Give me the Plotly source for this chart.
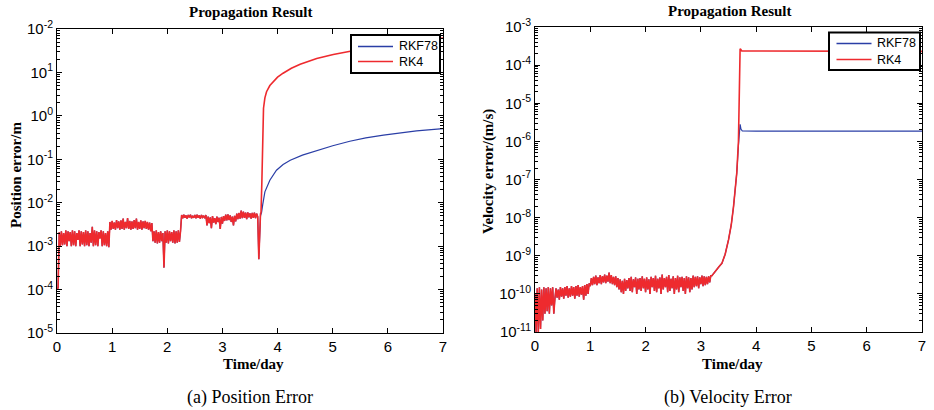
import numpy as np
import plotly.graph_objects as go

# ---------------- data: (a) position error ----------------
# shared noisy part (both integrators agree), sampled every 0.02 day from 0 to 3.66, units 1e-3 m
t_pos_noise = np.round(np.arange(0, 3.6601, 0.02), 2)
pos_noise_mm = [
    0.10, 0.11,
    # 0.04 - 0.94
    2.1, 1.0, 2.2, 1.05, 2.0, 1.1, 2.3, 1.0, 2.2, 1.3,
    2.1, 1.0, 2.3, 1.05, 2.2, 1.0, 2.0, 1.4, 2.3, 1.0,
    2.2, 1.1, 2.1, 1.0, 2.3, 1.05, 2.2, 1.0, 2.0, 1.2,
    2.8, 1.0, 2.3, 1.05, 2.2, 1.0, 2.1, 1.5, 2.3, 1.0,
    2.2, 1.05, 2.0, 1.0, 2.2, 0.95,
    # 0.96 - 1.72
    3.6, 2.4, 3.8, 2.5, 3.5, 2.4, 4.0, 2.6, 3.7, 2.4,
    3.9, 2.5, 4.3, 2.4, 3.6, 2.6, 4.4, 2.5, 3.8, 2.4,
    3.7, 2.5, 4.0, 2.6, 4.3, 2.4, 3.6, 2.5, 3.9, 2.4,
    3.7, 2.6, 3.8, 2.5, 3.6, 2.4, 3.5, 2.2, 3.4,
    # 1.74 - 2.24
    1.3, 2.2, 1.2, 2.3, 1.15, 2.1, 1.2, 2.2, 1.3, 2.0,
    0.32,
    2.2, 1.2, 2.3, 1.15, 2.2, 1.3, 2.1, 1.2, 2.3,
    1.15, 2.2, 1.2, 2.3, 1.25, 2.2,
    # 2.26 - 2.70
    5.2, 4.4, 5.3, 4.5, 5.1, 4.3, 5.2, 4.6, 5.3, 4.4,
    5.0, 4.5, 5.2, 4.4, 5.3, 4.5, 5.1, 4.3, 5.2, 4.6,
    5.0, 4.4, 5.2,
    # 2.72 - 3.66
    3.0, 4.8, 3.4, 4.6, 2.6, 4.9, 3.5, 4.4, 3.2, 4.8,
    3.6, 4.5, 2.5, 4.7, 3.3, 4.9, 3.8, 5.3, 3.9, 5.4,
    4.0, 5.1, 3.6, 4.8, 3.0, 5.0, 3.7, 5.6, 4.2, 5.8,
    4.3, 6.6, 4.4, 6.2, 4.5, 5.9, 4.2, 6.0, 4.6, 5.7,
    4.3, 5.8, 4.5, 5.9, 4.4, 5.6, 4.8,
    0.5,
]
pos_noise = [v * 1e-3 for v in pos_noise_mm]

t_pos_rkf_tail = [3.69, 3.71, 3.73, 3.77, 3.86, 3.98, 4.10, 4.23, 4.45, 4.71, 5.00, 5.31,
                  5.60, 5.92, 6.20, 6.52, 7.00]
pos_rkf_tail = [0.0050, 0.0060, 0.0089, 0.0178, 0.033, 0.056, 0.076, 0.095, 0.125, 0.16,
                0.205, 0.26, 0.31, 0.36, 0.40, 0.45, 0.51]

t_pos_rk4_tail = [3.69, 3.70, 3.715, 3.725, 3.735, 3.745, 3.77, 3.80, 3.86, 3.92, 4.00, 4.10,
                  4.25, 4.41, 4.71, 5.01, 5.31, 5.70, 6.00, 6.50, 7.00]
pos_rk4_tail = [0.0055, 0.0060, 0.03, 0.107, 0.6, 1.5, 2.6, 3.6, 5.0, 6.2, 7.8, 9.6,
                12.5, 15.5, 21, 26, 31, 38, 44, 53, 62]

# ---------------- data: (b) velocity error ----------------
t_vel_noise = np.round(np.arange(0, 3.2001, 0.02), 2)
vel_noise_e10 = [
    # 0.00 - 0.34
    1.0, 0.1, 1.4, 0.1, 1.5, 0.12, 1.3, 0.2, 1.5, 0.3,
    1.4, 0.35, 1.5, 0.3, 1.4, 0.5, 1.5, 0.3,
    # 0.36 - 0.98
    0.75, 1.4, 0.8, 1.3, 0.7, 1.5, 0.85, 1.4, 0.75, 1.5,
    0.9, 1.6, 0.8, 1.4, 0.85, 1.6, 0.9, 1.5, 0.75, 1.6,
    0.9, 1.7, 0.85, 1.5, 0.95, 1.6, 0.7, 1.7, 0.9, 1.8,
    1.0, 1.9,
    # 1.00 - 1.50
    1.6, 2.6, 1.7, 2.8, 1.8, 3.0, 1.7, 2.7, 1.9, 3.1,
    1.8, 2.9, 2.0, 3.2, 1.9, 3.0, 2.1, 3.6, 1.9, 3.1,
    1.8, 2.8, 1.7, 2.9, 1.5, 2.6,
    # 1.52 - 3.20
    1.3, 2.4, 1.1, 2.2, 1.0, 2.5, 1.2, 2.3, 1.4, 2.6,
    1.2, 2.8, 1.1, 2.4, 1.5, 2.7, 1.0, 2.5, 1.3, 2.6,
    1.2, 2.9, 1.4, 2.5, 1.1, 2.7, 1.3, 2.4, 1.0, 2.8,
    1.5, 2.6, 1.2, 3.0, 1.1, 2.5, 1.4, 2.7, 1.0, 3.2,
    1.3, 2.6, 1.5, 2.8, 1.1, 3.1, 1.2, 2.5, 1.4, 2.9,
    1.0, 2.6, 1.3, 3.0, 1.1, 2.7, 1.5, 2.8, 1.2, 2.6,
    1.0, 2.9, 1.4, 2.7, 1.1, 2.6, 1.3, 3.0, 1.5, 2.8,
    1.6, 2.9, 1.4, 2.7, 1.8, 3.0, 1.6, 2.9, 1.7, 2.8,
    1.8, 2.9, 2.0, 3.0, 3.0,
]
vel_noise = [v * 1e-10 for v in vel_noise_e10]

t_vel_rise = [3.22, 3.28, 3.33, 3.38, 3.44, 3.50, 3.55, 3.59, 3.62, 3.65]
vel_rise = [3.3e-10, 4.3e-10, 5.2e-10, 6.3e-10, 1.1e-9, 2.6e-9, 6.5e-9, 1.9e-8, 5e-8, 1.5e-7]

t_vel_rkf_tail = [3.68, 3.70, 3.71, 3.725, 3.75, 4.00, 7.00]
vel_rkf_tail = [8e-7, 2.5e-6, 2.8e-6, 2.1e-6, 1.87e-6, 1.86e-6, 1.86e-6]

t_vel_rk4_tail = [3.68, 3.69, 3.70, 3.71, 3.72, 3.74, 4.00, 7.00]
vel_rk4_tail = [1e-6, 1e-5, 2e-4, 2.7e-4, 2.6e-4, 2.35e-4, 2.34e-4, 2.3e-4]

series_names = ["RKF78", "RK4"]
x_ticks = [0, 1, 2, 3, 4, 5, 6, 7]
pos_tick_exps = [-5, -4, -3, -2, -1, 0, 1, 2]
pos_tick_text = ["-5", "-4", "-3", "-2", "-1", "0", "1", "-2"]
vel_tick_exps = [-11, -10, -9, -8, -7, -6, -5, -4, -3]

BLUE = "#2a3ea6"
RED = "#ee2a2e"
colors = [BLUE, RED]
widths = [1.2, 1.6]

# ---------------- build series ----------------
t_pos = [list(t_pos_noise) + t_pos_rkf_tail, list(t_pos_noise) + t_pos_rk4_tail]
pos = [pos_noise + pos_rkf_tail, pos_noise + pos_rk4_tail]
t_vel = [list(t_vel_noise) + t_vel_rise + t_vel_rkf_tail, list(t_vel_noise) + t_vel_rise + t_vel_rk4_tail]
vel = [vel_noise + vel_rise + vel_rkf_tail, vel_noise + vel_rise + vel_rk4_tail]

fig = go.Figure()
for i in range(2):
    fig.add_trace(go.Scatter(x=t_pos[i], y=pos[i], mode="lines", name=series_names[i],
                             line=dict(color=colors[i], width=widths[i]), xaxis="x", yaxis="y",
                             showlegend=False))
for i in range(2):
    fig.add_trace(go.Scatter(x=t_vel[i], y=vel[i], mode="lines", name=series_names[i],
                             line=dict(color=colors[i], width=widths[i]), xaxis="x2", yaxis="y2",
                             showlegend=False))

SANS = "Liberation Sans, Arial, sans-serif"
SERIF = "Liberation Serif, Times New Roman, serif"
tickfont = dict(family=SANS, size=15, color="black")
W, H = 934.0, 410.0


def minor_vals(lo, hi):
    return [m * 10.0 ** k for k in range(lo, hi) for m in range(2, 10)]


xcommon = dict(range=[0, 7], tickmode="array", tickvals=x_ticks, ticks="inside", ticklen=5,
               showline=True, linecolor="black", linewidth=1, mirror="ticks", showgrid=False,
               zeroline=False, tickfont=tickfont, tickcolor="black", automargin=False)

fig.update_layout(
    width=934, height=410, margin=dict(l=0, r=0, t=0, b=0, pad=0, autoexpand=False),
    paper_bgcolor="white", plot_bgcolor="white", showlegend=False,
    xaxis=dict(domain=[57 / W, 443 / W], anchor="y", **xcommon),
    xaxis2=dict(domain=[535 / W, 922 / W], anchor="y2", **xcommon),
    yaxis=dict(type="log", range=[-5, 2], domain=[1 - 333 / H, 1 - 29 / H], anchor="x",
               tickmode="array", tickvals=[10.0 ** e for e in pos_tick_exps],
               ticktext=["10<sup>%s</sup>" % s for s in pos_tick_text],
               ticks="inside", ticklen=5, tickcolor="black", automargin=False,
               minor=dict(tickmode="array", tickvals=minor_vals(-5, 2), ticks="inside",
                          ticklen=3, tickcolor="black", showgrid=False),
               showline=True, linecolor="black", linewidth=1, mirror="ticks",
               showgrid=False, zeroline=False, tickfont=tickfont),
    yaxis2=dict(type="log", range=[-11, -3], domain=[1 - 332 / H, 1 - 27 / H], anchor="x2",
                tickmode="array", tickvals=[10.0 ** e for e in vel_tick_exps],
                ticktext=["10<sup>%d</sup>" % e for e in vel_tick_exps],
                ticks="inside", ticklen=5, tickcolor="black", automargin=False,
                minor=dict(tickmode="array", tickvals=minor_vals(-11, -3), ticks="inside",
                           ticklen=3, tickcolor="black", showgrid=False),
                showline=True, linecolor="black", linewidth=1, mirror="ticks",
                showgrid=False, zeroline=False, tickfont=tickfont),
)

# ---------------- legends (drawn as boxes in paper space) ----------------
shapes = []
ann = []
leg_font = dict(family=SANS, size=12.5, color="black")
for (x0, x1, y0, y1, lx0, lx1, tx, rows) in [
    (351, 440, 35, 73, 358, 393, 397, (46.5, 61.5)),
    (829, 920, 32.5, 70, 836.5, 871.5, 875, (43.5, 59.5)),
]:
    shapes.append(dict(type="rect", xref="paper", yref="paper", x0=x0 / W, x1=x1 / W,
                       y0=1 - y1 / H, y1=1 - y0 / H, line=dict(color="black", width=2),
                       fillcolor="white", layer="above"))
    for i, ry in enumerate(rows):
        shapes.append(dict(type="line", xref="paper", yref="paper", x0=lx0 / W, x1=lx1 / W,
                           y0=1 - ry / H, y1=1 - ry / H, line=dict(color=colors[i], width=1.3),
                           layer="above"))
        ann.append(dict(text=series_names[i], x=tx / W, y=1 - ry / H, xref="paper", yref="paper",
                        showarrow=False, font=leg_font, xanchor="left", yanchor="middle"))

bold = dict(family=SERIF, size=15, color="black")
ann.append(dict(text="<b>Propagation Result</b>", x=251 / W, y=1 - 12 / H, xref="paper", yref="paper",
                showarrow=False, font=bold, xanchor="center", yanchor="middle"))
ann.append(dict(text="<b>Propagation Result</b>", x=729 / W, y=1 - 11 / H, xref="paper", yref="paper",
                showarrow=False, font=bold, xanchor="center", yanchor="middle"))
ann.append(dict(text="<b>Position error/m</b>", x=16 / W, y=1 - 175 / H, xref="paper", yref="paper",
                showarrow=False, font=bold, textangle=-90, xanchor="center", yanchor="middle"))
ann.append(dict(text="<b>Velocity error/(m/s)</b>", x=489 / W, y=1 - 171 / H, xref="paper", yref="paper",
                showarrow=False, font=bold, textangle=-90, xanchor="center", yanchor="middle"))
ann.append(dict(text="<b>Time/day</b>", x=253 / W, y=1 - 364 / H, xref="paper", yref="paper",
                showarrow=False, font=bold, xanchor="center", yanchor="middle"))
ann.append(dict(text="<b>Time/day</b>", x=732 / W, y=1 - 364 / H, xref="paper", yref="paper",
                showarrow=False, font=bold, xanchor="center", yanchor="middle"))
cap_font = dict(family=SERIF, size=18, color="black")
ann.append(dict(text="(a) Position Error", x=250 / W, y=1 - 397 / H, xref="paper", yref="paper",
                showarrow=False, font=cap_font, xanchor="center", yanchor="middle"))
ann.append(dict(text="(b) Velocity Error", x=728 / W, y=1 - 397 / H, xref="paper", yref="paper",
                showarrow=False, font=cap_font, xanchor="center", yanchor="middle"))
fig.update_layout(annotations=ann, shapes=shapes)

fig.write_html("out.html")
